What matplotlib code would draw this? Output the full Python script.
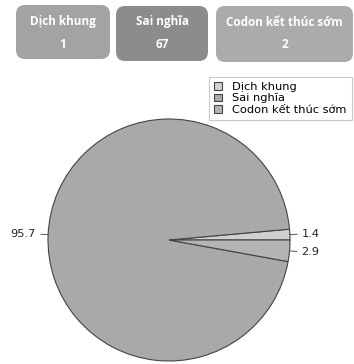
"""Pie chart of mutation types (Dịch khung / Sai nghĩa / Codon kết thúc sớm)."""
import numpy as np
import matplotlib
matplotlib.use("Agg")
import matplotlib.pyplot as plt
from matplotlib.patches import FancyBboxPatch

# data
categories = ["Dịch khung", "Sai nghĩa", "Codon kết thúc sớm"]
counts = [1, 67, 2]
slice_colors = ["#d0d0d0", "#a9a9a9", "#b4b4b4"]
box_colors = ["#a3a3a3", "#8c8c8c", "#ababab"]

W, H = 354, 364
fig = plt.figure(figsize=(W / 100, H / 100), dpi=100)

# summary boxes on top (pixel extents, top-left origin)
box_px = [(16, 5, 110, 59), (116, 6, 208, 61), (216, 6, 353, 62)]
for (x0, y0, x1, y1), name, n, c in zip(box_px, categories, counts, box_colors):
    bx = FancyBboxPatch((x0 / W, 1 - y1 / H), (x1 - x0) / W, (y1 - y0) / H,
                        boxstyle="round,pad=0,rounding_size=0.025",
                        transform=fig.transFigure, facecolor=c, edgecolor="none")
    fig.patches.append(bx)
    cx = (x0 + x1) / 2 / W
    fig.text(cx, 1 - 22 / H, name, ha="center", va="center", color="white",
             fontsize=8.5, fontweight="bold", family="Open Sans")
    fig.text(cx, 1 - 44 / H, str(n), ha="center", va="center", color="white",
             fontsize=8.5, fontweight="bold", family="Open Sans")

# pie
cx_px, cy_px, r_px = 169, 240, 121
ax = fig.add_axes([(cx_px - r_px) / W, (H - cy_px - r_px) / H, 2 * r_px / W, 2 * r_px / H])
wedges, _ = ax.pie(counts, colors=slice_colors, startangle=0, counterclock=True,
                   wedgeprops=dict(edgecolor="#444444", linewidth=0.8))
ax.set_xlim(-1, 1)
ax.set_ylim(-1, 1)
ax.axis("off")

pct = 100 * np.array(counts) / sum(counts)
for w, p in zip(wedges, pct):
    mid = np.deg2rad((w.theta1 + w.theta2) / 2)
    dx, dy = np.cos(mid), np.sin(mid)
    ax.plot([1.0 * dx, 1.06 * dx], [1.0 * dy, 1.06 * dy], color="#555555", lw=0.7, clip_on=False)
    ax.text(1.1 * dx, 1.1 * dy, f"{p:.1f}", ha="left" if dx > 0 else "right",
            va="center", fontsize=8.2, color="#222222", clip_on=False)

leg = fig.legend(wedges, categories, loc="upper right", bbox_to_anchor=(352 / W, 1 - 77 / H),
                 fontsize=8.2, frameon=True, fancybox=False, handlelength=0.7, handleheight=0.7,
                 handletextpad=0.9, labelspacing=0.12, borderpad=0.45, borderaxespad=0)
leg.get_frame().set_edgecolor("#bbbbbb")
leg.get_frame().set_linewidth(0.8)

fig.savefig("out.png", dpi=100)
